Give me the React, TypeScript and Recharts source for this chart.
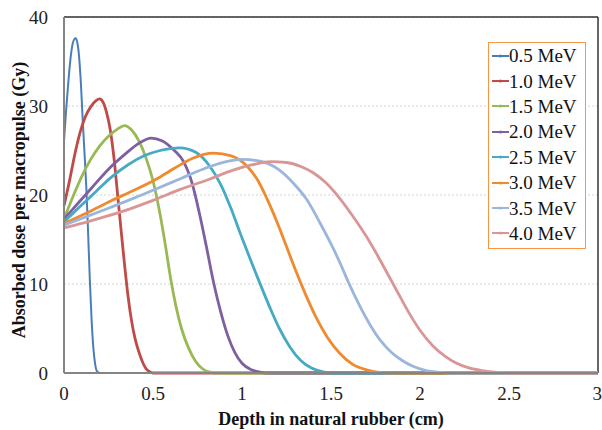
import React from 'react'
import { LineChart, Line, XAxis, YAxis, CartesianGrid, ReferenceLine } from 'recharts'

// depth (cm), dose (Gy) pairs
const mev05: [number, number][] = [
  [0, 26], [0.01, 29], [0.02, 31.6], [0.03, 34], [0.04, 35.9], [0.05, 37.1], [0.065, 37.6],
  [0.075, 37.1], [0.085, 35.5], [0.095, 32.5], [0.105, 28.5], [0.115, 24.8], [0.125, 21],
  [0.135, 16], [0.145, 10.5], [0.155, 6], [0.165, 2.8], [0.175, 1], [0.185, 0.2], [0.2, 0], [3, 0],
]
const mev10: [number, number][] = [
  [0, 18.8], [0.03, 21.5], [0.06, 24.5], [0.09, 27], [0.12, 28.8], [0.15, 29.9], [0.18, 30.6],
  [0.2, 30.8], [0.22, 30.4], [0.24, 29.2], [0.26, 27.3], [0.28, 24.3], [0.3, 20.3], [0.32, 16.2],
  [0.34, 12.2], [0.36, 8.6], [0.38, 5.8], [0.4, 3.8], [0.42, 2.4], [0.44, 1.3], [0.46, 0.5],
  [0.48, 0.15], [0.5, 0], [3, 0],
]
const mev15: [number, number][] = [
  [0, 17.3], [0.05, 19.8], [0.1, 22.1], [0.15, 24], [0.2, 25.5], [0.25, 26.6], [0.3, 27.4],
  [0.34, 27.8], [0.38, 27.3], [0.42, 26.1], [0.46, 24.2], [0.5, 21.6], [0.54, 17.8], [0.57, 14.3],
  [0.6, 10.5], [0.63, 7.4], [0.66, 5], [0.7, 2.8], [0.74, 1.3], [0.78, 0.45], [0.82, 0.1],
  [0.86, 0], [3, 0],
]
const mev20: [number, number][] = [
  [0, 17.3], [0.08, 19.1], [0.16, 20.9], [0.25, 22.9], [0.35, 24.7], [0.42, 25.8], [0.49, 26.4],
  [0.55, 26.1], [0.62, 25], [0.67, 23.8], [0.72, 21.3], [0.76, 18], [0.8, 14.2], [0.84, 10.2],
  [0.88, 6.9], [0.92, 4.2], [0.96, 2.3], [1.0, 1.1], [1.05, 0.4], [1.1, 0.1], [1.15, 0], [3, 0],
]
const mev25: [number, number][] = [
  [0, 17.0], [0.09, 18.7], [0.18, 20.4], [0.26, 21.9], [0.36, 23.4], [0.45, 24.4], [0.54, 25],
  [0.65, 25.3], [0.74, 24.8], [0.82, 23.2], [0.88, 21.2], [0.94, 18.4], [0.99, 15.7], [1.05, 12.6],
  [1.1, 10.1], [1.16, 7.2], [1.21, 5.0], [1.27, 2.9], [1.33, 1.4], [1.39, 0.55], [1.45, 0.15],
  [1.5, 0], [3, 0],
]
const mev30: [number, number][] = [
  [0, 16.8], [0.13, 18], [0.26, 19.3], [0.39, 20.5], [0.52, 21.8], [0.62, 23], [0.72, 24.1],
  [0.84, 24.7], [0.94, 24.4], [1.03, 23.2], [1.09, 21.6], [1.14, 19.6], [1.2, 16.8], [1.25, 14.2],
  [1.3, 11.6], [1.36, 8.7], [1.42, 6.1], [1.48, 4], [1.55, 2.2], [1.62, 1], [1.7, 0.35],
  [1.78, 0.05], [1.85, 0], [3, 0],
]
const mev35: [number, number][] = [
  [0, 16.6], [0.13, 17.6], [0.26, 18.6], [0.4, 19.7], [0.52, 20.7], [0.65, 21.8], [0.78, 22.9],
  [0.9, 23.7], [1.0, 24], [1.1, 23.8], [1.21, 22.8], [1.29, 21.3], [1.36, 19.6], [1.44, 16.8],
  [1.5, 14.5], [1.55, 12.4], [1.6, 10.1], [1.66, 7.6], [1.72, 5.4], [1.78, 3.6], [1.84, 2.3],
  [1.9, 1.4], [1.96, 0.75], [2.03, 0.3], [2.1, 0.1], [2.2, 0], [3, 0],
]
const mev40: [number, number][] = [
  [0, 16.3], [0.15, 17.1], [0.35, 18.3], [0.5, 19.4], [0.65, 20.6], [0.82, 21.8], [0.95, 22.8],
  [1.06, 23.4], [1.16, 23.75], [1.25, 23.65], [1.33, 23.2], [1.4, 22.5], [1.47, 21.4], [1.55, 19.6],
  [1.62, 17.7], [1.7, 15.3], [1.77, 12.9], [1.83, 10.7], [1.89, 8.5], [1.94, 6.7], [2.0, 4.8],
  [2.07, 3.1], [2.14, 1.9], [2.2, 1.15], [2.27, 0.6], [2.34, 0.3], [2.42, 0.1], [2.5, 0], [3, 0],
]

const energies = ['0.5 MeV', '1.0 MeV', '1.5 MeV', '2.0 MeV', '2.5 MeV', '3.0 MeV', '3.5 MeV', '4.0 MeV']
const curves = [mev05, mev10, mev15, mev20, mev25, mev30, mev35, mev40]
const colors = ['#4a7ebb', '#be4b48', '#98b954', '#7d60a0', '#46aac5', '#f08a2e', '#9bb6dc', '#d99694']

const xTicks = [0, 0.5, 1, 1.5, 2, 2.5, 3]
const yTicks = [0, 10, 20, 30, 40]

const FONT = '"Liberation Serif", "DejaVu Serif", serif'

const series = energies.map((name, i) => ({
  name,
  color: colors[i],
  data: curves[i].map(([x, y]) => ({ x, y })),
}))

export default function App() {
  return (
    <div style={{ position: 'absolute', left: 0, top: 0, width: 602, height: 430, background: '#fff', fontFamily: FONT }}>
      <LineChart width={602} height={430} margin={{ top: 17, right: 4, bottom: 0, left: 0 }} style={{ fontFamily: FONT }}>
        <CartesianGrid vertical={false} stroke="#d4d4d4" strokeDasharray="2 2" />
        <XAxis
          type="number"
          dataKey="x"
          domain={[0, 3]}
          ticks={xTicks}
          height={57}
          tickLine={false}
          axisLine={{ stroke: '#858585', strokeWidth: 2 }}
          tick={{ fontSize: 19, fill: '#222', fontFamily: FONT }}
          tickMargin={8}
          label={() => (
            <text x={331} y={425} textAnchor="middle" fontSize={18} fontWeight="bold" fontFamily={FONT} fill="#111">
              Depth in natural rubber (cm)
            </text>
          )}
        />
        <YAxis
          type="number"
          domain={[0, 40]}
          ticks={yTicks}
          width={64}
          tickLine={false}
          axisLine={{ stroke: '#858585', strokeWidth: 2 }}
          tick={{ fontSize: 19, fill: '#222', fontFamily: FONT }}
          tickMargin={10}
          label={() => (
            <text x={25} y={200} transform="rotate(-90 25 200)" textAnchor="middle" fontSize={18} fontWeight="bold" fontFamily={FONT} fill="#111">
              Absorbed dose per macropulse (Gy)
            </text>
          )}
        />
        <ReferenceLine y={40} stroke="#333" strokeWidth={1.5} />
        <ReferenceLine x={3} stroke="#333" strokeWidth={1.5} />
        {series.map(s => (
          <Line
            key={s.name}
            data={s.data}
            dataKey="y"
            name={s.name}
            type="monotone"
            stroke={s.color}
            strokeWidth={s.name === '0.5 MeV' ? 2 : 2.8}
            dot={false}
            isAnimationActive={false}
          />
        ))}
      </LineChart>
      <div
        style={{
          position: 'absolute',
          left: 488,
          top: 42,
          width: 98,
          height: 207,
          boxSizing: 'border-box',
          border: '1.5px solid #f79646',
          background: '#fff',
          paddingLeft: 3,
        }}
      >
        {series.map(s => (
          <div key={s.name} style={{ height: 25.4, display: 'flex', alignItems: 'center', fontSize: 19, color: '#111', lineHeight: 1 }}>
            <svg width={17} height={10} style={{ flex: 'none' }}>
              <line x1={0} y1={5} x2={17} y2={5} stroke={s.color} strokeWidth={2} />
              <circle cx={8.5} cy={5} r={1.6} fill={s.color} />
            </svg>
            <span>{s.name}</span>
          </div>
        ))}
      </div>
    </div>
  )
}
